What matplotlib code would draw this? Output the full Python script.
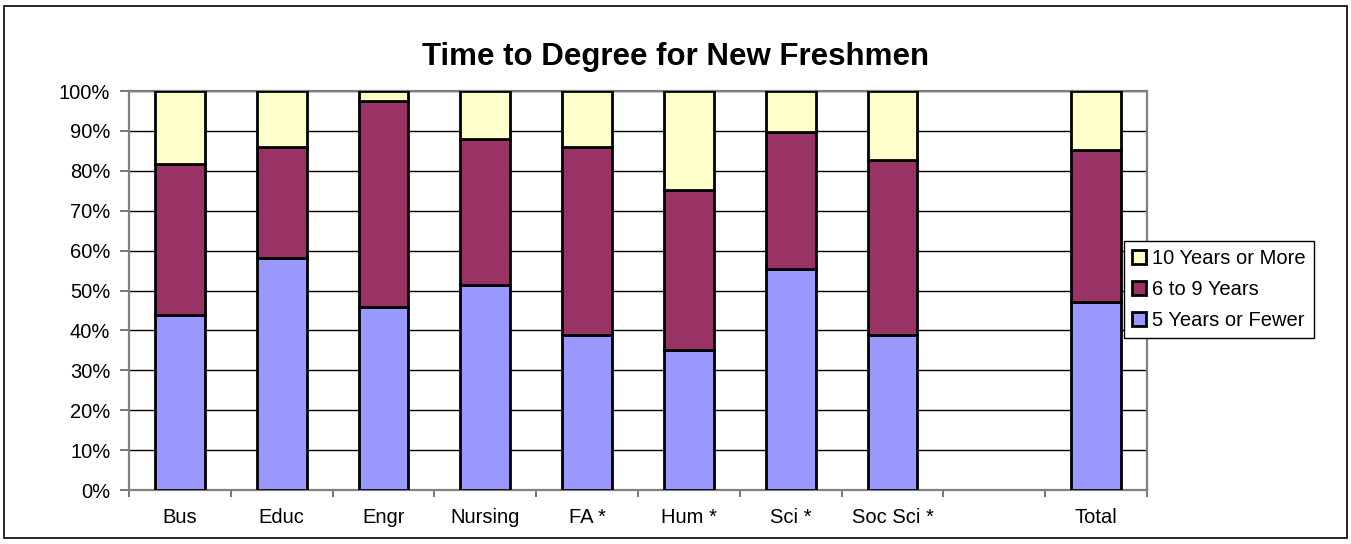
import numpy as np
import matplotlib
matplotlib.use("Agg")
import matplotlib.pyplot as plt
from matplotlib.patches import Rectangle
from matplotlib.ticker import PercentFormatter

plt.rcParams['font.family'] = ['Liberation Sans', 'DejaVu Sans']

categories = ["Bus", "Educ", "Engr", "Nursing", "FA *", "Hum *", "Sci *", "Soc Sci *", "", "Total"]
five_or_fewer = [43.9, 58.1, 45.9, 51.5, 38.8, 35.1, 55.3, 38.8, None, 47.0]
six_to_nine   = [37.9, 27.8, 51.5, 36.4, 47.1, 40.0, 34.3, 43.8, None, 38.3]
ten_or_more   = [18.2, 14.1, 2.6, 12.1, 14.1, 24.9, 10.4, 17.4, None, 14.7]

series = [("5 Years or Fewer", five_or_fewer, "#9999FF"),
          ("6 to 9 Years", six_to_nine, "#993366"),
          ("10 Years or More", ten_or_more, "#FFFFCC")]

W, H = 1351, 544
fig = plt.figure(figsize=(W / 100, H / 100), dpi=100)
fig.patch.set_facecolor("white")
ax = fig.add_axes([129 / W, (H - 490) / H, (1147 - 129) / W, (490 - 91) / H])

x = np.arange(len(categories))
bottom = np.zeros(len(categories))
handles = []
for name, vals, color in series:
    v = np.array([np.nan if a is None else a for a in vals], dtype=float)
    mask = ~np.isnan(v)
    b = ax.bar(x[mask], v[mask], width=0.49, bottom=bottom[mask], color=color,
               edgecolor="black", linewidth=2.0, label=name, zorder=3)
    handles.append(b)
    bottom[mask] += v[mask]

ax.set_xlim(-0.5, len(categories) - 0.5)
ax.set_ylim(0, 100)
ax.set_yticks(np.arange(0, 101, 10))
ax.yaxis.set_major_formatter(PercentFormatter(decimals=0))
ax.yaxis.grid(True, color="black", linewidth=1.0, zorder=0)
ax.set_axisbelow(True)

ax.set_xticks(np.arange(-0.5, len(categories) + 0.5, 1.0))
ax.set_xticklabels([])
ax.set_xticks(x, minor=True)
ax.set_xticklabels(categories, minor=True)
ax.tick_params(axis="x", which="major", length=5, width=1.2, color="#606060", direction="out")
ax.tick_params(axis="x", which="minor", length=0, pad=13, labelsize=14.5)
ax.tick_params(axis="y", length=6.5, width=1.2, color="#606060", direction="out", labelsize=14.5, pad=7)

for s in ax.spines.values():
    s.set_color("#808080")
    s.set_linewidth(1.6)

fig.text(0.5, (H - 65) / H, "Time to Degree for New Freshmen", ha="center", va="baseline",
         fontsize=22.5, fontweight="bold")

leg = fig.legend(handles[::-1], [s[0] for s in series][::-1], loc="upper left",
                 bbox_to_anchor=(1124 / W, (H - 241) / H), bbox_transform=fig.transFigure,
                 fancybox=False, framealpha=1, edgecolor="black", fontsize=14.5,
                 handlelength=0.7, handleheight=0.7, handletextpad=0.3, borderpad=0.4,
                 labelspacing=0.6, borderaxespad=0)
leg.get_frame().set_linewidth(1.0)
leg.set_zorder(5)

fig.patches.append(Rectangle((4 / W, 6 / H), (1347 - 4) / W, (538 - 6) / H,
                             transform=fig.transFigure, fill=False, edgecolor="black",
                             linewidth=1.2))

fig.savefig("out.png", dpi=100)
